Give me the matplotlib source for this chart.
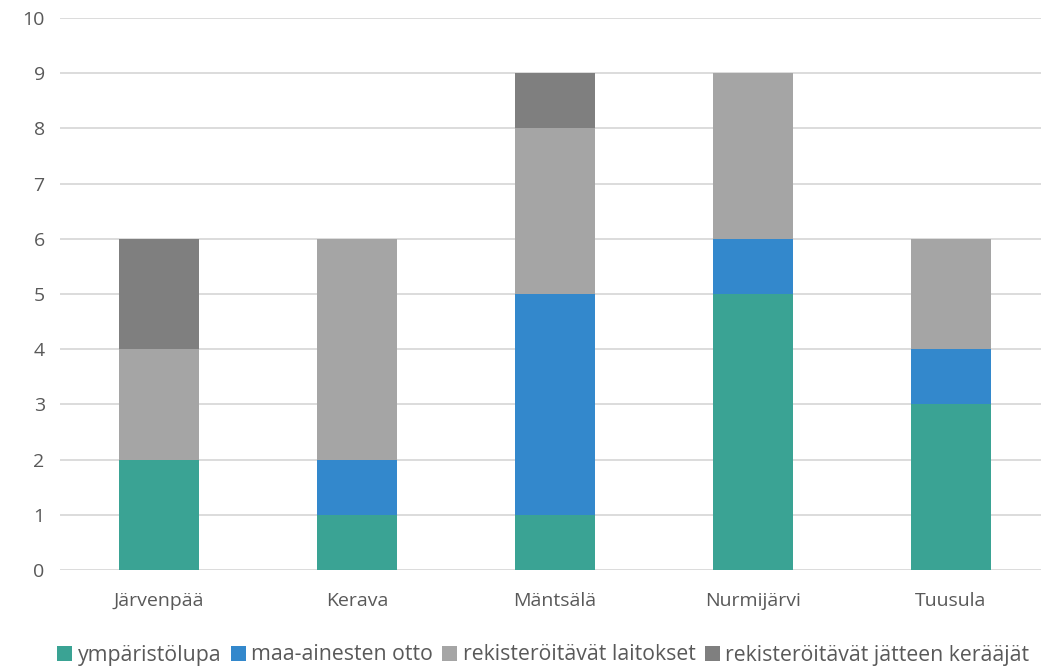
import numpy as np
import matplotlib
matplotlib.use('Agg')
import matplotlib.pyplot as plt

plt.rcParams['font.family'] = ['Open Sans', 'DejaVu Sans']

municipalities = ['Järvenpää', 'Kerava', 'Mäntsälä', 'Nurmijärvi', 'Tuusula']
series_names = ['ympäristölupa', 'maa-ainesten otto', 'rekisteröitävät laitokset',
                'rekisteröitävät jätteen kerääjät']
ymparistolupa = [2, 1, 1, 5, 3]
maa_ainesten_otto = [0, 1, 4, 1, 1]
rek_laitokset = [2, 4, 3, 3, 2]
rek_jatteen_keraajat = [2, 0, 1, 0, 0]
colors = ['#3AA394', '#3388CC', '#A5A5A5', '#7F7F7F']

txt = '#595959'
fig = plt.figure(figsize=(10.41, 6.66), dpi=100)
ax = fig.add_axes([60/1041, 1-570/666, 990/1041, 552/666])

x = np.arange(len(municipalities))
bottom = np.zeros(len(municipalities))
for vals, name, c in zip([ymparistolupa, maa_ainesten_otto, rek_laitokset, rek_jatteen_keraajat],
                         series_names, colors):
    ax.bar(x, vals, 0.404, bottom=bottom, color=c, label=name, zorder=3)
    bottom += np.array(vals)

ax.set_xlim(-0.5, 4.5)
ax.set_ylim(0, 10)
ax.set_yticks(range(0, 11))
ax.set_xticks(x)
ax.set_xticklabels(municipalities)
ax.yaxis.grid(True, color='#D9D9D9', linewidth=1.3, zorder=0)
for s in ax.spines.values():
    s.set_visible(False)
ax.tick_params(length=0, labelsize=14, colors=txt)
ax.tick_params(axis='x', pad=16)
ax.tick_params(axis='y', pad=11)

leg = fig.legend(loc='center', bbox_to_anchor=(0.522, 1-655/666), ncol=4, frameon=False,
                 fontsize=15.3, handlelength=0.7, handleheight=0.7, handletextpad=0.25,
                 columnspacing=0.45, labelcolor=txt)

fig.savefig('out.png', dpi=100)
